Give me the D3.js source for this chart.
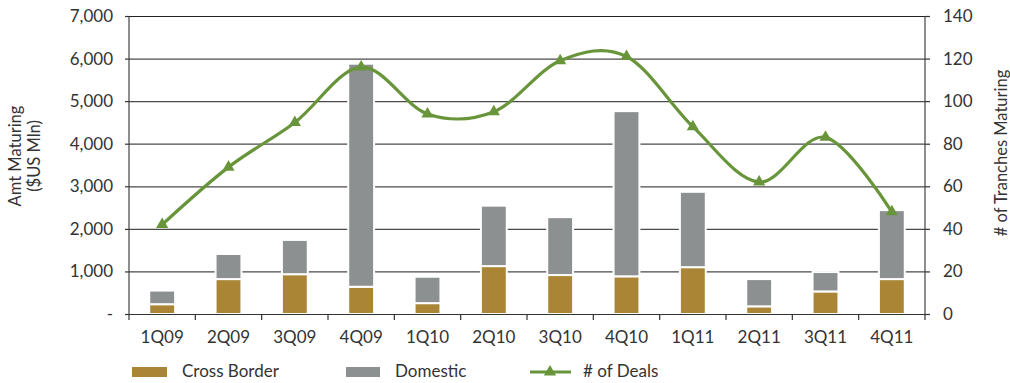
<!DOCTYPE html>
<html>
<head>
<meta charset="utf-8">
<script src="https://cdn.jsdelivr.net/npm/d3@7"></script>
<style>
  html, body { margin: 0; padding: 0; background: #fff; }
  svg { display: block; font-family: Lato, "Open Sans", sans-serif; }
</style>
</head>
<body>
<svg id="chart" width="1010" height="383"></svg>
<script>
// Quarterly maturities
const quarters = ["1Q09","2Q09","3Q09","4Q09","1Q10","2Q10","3Q10","4Q10","1Q11","2Q11","3Q11","4Q11"];
const crossBorder = [230, 820, 935, 640, 255, 1125, 915, 885, 1100, 180, 530, 820];
const domestic    = [320, 590, 805, 5240, 620, 1420, 1360, 3880, 1770, 640, 455, 1620];
const deals       = [42, 69, 90, 116, 94, 95, 119, 121, 88, 62, 83, 48];
const amtTicks    = [0, 1000, 2000, 3000, 4000, 5000, 6000, 7000];
const dealTicks   = [0, 20, 40, 60, 80, 100, 120, 140];

const colors = { cross: "#a98535", domestic: "#8d9090", deals: "#68953a" };
const textColor = "#333";

const svg = d3.select("#chart");
const m = { left: 129, right: 925, top: 16, bottom: 314 };

const x = d3.scaleBand().domain(quarters).range([m.left, m.right]).paddingInner(0.61).paddingOuter(0.305);
const xOuter = d3.scaleBand().domain(quarters).range([m.left, m.right]);
const yL = d3.scaleLinear().domain([0, 7000]).range([m.bottom, m.top]);
const yR = d3.scaleLinear().domain([0, 140]).range([m.bottom, m.top]);

// Gridlines
svg.append("g").selectAll("line").data(amtTicks.slice(1)).join("line")
  .attr("x1", m.left).attr("x2", m.right)
  .attr("y1", d => yL(d) + 0.5).attr("y2", d => yL(d) + 0.5)
  .attr("stroke", d => d === 7000 ? "#222" : "#4a4a4a").attr("stroke-width", 1.2);

// Stacked bars
const stackData = quarters.map((q, i) => ({ q, cross: crossBorder[i], domestic: domestic[i] }));
const series = d3.stack().keys(["cross", "domestic"])(stackData);
svg.append("g").selectAll("g").data(series).join("g")
  .attr("fill", s => colors[s.key])
  .selectAll("rect").data(s => s).join("rect")
  .attr("x", d => x(d.data.q))
  .attr("width", x.bandwidth())
  .attr("y", d => yL(d[1]))
  .attr("height", d => yL(d[0]) - yL(d[1]))
  .attr("stroke", "#fff").attr("stroke-width", 2);

// Left axis
const leftAxis = d3.axisLeft(yL).tickValues(amtTicks)
  .tickFormat(d => d === 0 ? "-" : d3.format(",")(d)).tickSize(4).tickPadding(12);
const gL = svg.append("g").attr("transform", `translate(${m.left},0)`).call(leftAxis);

// Right axis
const rightAxis = d3.axisRight(yR).tickValues(dealTicks).tickSize(5).tickPadding(13);
const gR = svg.append("g").attr("transform", `translate(${m.right},0)`).call(rightAxis);

// Bottom axis with ticks at category boundaries
const gB = svg.append("g").attr("transform", `translate(0,${m.bottom})`);
gB.append("line").attr("x1", m.left - 4).attr("x2", m.right + 5).attr("y1", 0.5).attr("y2", 0.5)
  .attr("stroke", "#333").attr("stroke-width", 1.2);
gB.selectAll("line.tk").data(quarters.concat(["end"])).join("line").attr("class", "tk")
  .attr("x1", (d, i) => m.left + i * xOuter.step()).attr("x2", (d, i) => m.left + i * xOuter.step())
  .attr("y1", 0).attr("y2", 6).attr("stroke", "#333").attr("stroke-width", 1.2);
gB.selectAll("text").data(quarters).join("text")
  .attr("x", d => xOuter(d) + xOuter.bandwidth() / 2).attr("y", 29)
  .attr("text-anchor", "middle").attr("font-size", 17).attr("fill", textColor).text(d => d);

[gL, gR].forEach(g => {
  g.select(".domain").attr("stroke", "#444").attr("stroke-width", 1.2);
  g.selectAll(".tick line").attr("stroke", "#333").attr("stroke-width", 1.2);
  g.selectAll(".tick text").attr("font-size", 17).attr("fill", textColor).attr("font-family", "Lato, sans-serif");
});
gL.select(".domain").attr("d", `M-4,${m.top + 0.5}H0V${m.bottom}`);
gR.select(".domain").attr("d", `M5,${m.top + 0.5}H0V${m.bottom}`);

// Deals line
const cx = q => xOuter(q) + xOuter.bandwidth() / 2;
const line = d3.line().x((d, i) => cx(quarters[i])).y(d => yR(d)).curve(d3.curveCatmullRom.alpha(0));
svg.append("path").datum(deals).attr("d", line)
  .attr("fill", "none").attr("stroke", colors.deals).attr("stroke-width", 3.2);
const tri = d3.symbol().type(d3.symbolTriangle).size(64);
svg.append("g").selectAll("path").data(deals).join("path")
  .attr("d", tri).attr("fill", colors.deals)
  .attr("transform", (d, i) => `translate(${cx(quarters[i])},${yR(d)})`);

// Axis titles
svg.append("text").attr("transform", "translate(21,156) rotate(-90)")
  .attr("text-anchor", "middle").attr("font-size", 16.5).attr("fill", textColor).text("Amt Maturing");
svg.append("text").attr("transform", "translate(40,156) rotate(-90)")
  .attr("text-anchor", "middle").attr("font-size", 16.5).attr("fill", textColor).text("($US Mln)");
svg.append("text").attr("transform", "translate(1007,153) rotate(-90)")
  .attr("text-anchor", "middle").attr("font-size", 16.5).attr("fill", textColor).text("# of Tranches Maturing");

// Legend
const lg = svg.append("g").attr("font-size", 17).attr("fill", textColor);
lg.append("rect").attr("x", 132).attr("y", 367).attr("width", 35).attr("height", 10).attr("fill", colors.cross);
lg.append("text").attr("x", 182).attr("y", 377).text("Cross Border");
lg.append("rect").attr("x", 346).attr("y", 367).attr("width", 34).attr("height", 10).attr("fill", colors.domestic);
lg.append("text").attr("x", 395).attr("y", 377).text("Domestic");
lg.append("line").attr("x1", 530).attr("x2", 571).attr("y1", 372).attr("y2", 372)
  .attr("stroke", colors.deals).attr("stroke-width", 3.2);
lg.append("path").attr("d", tri).attr("fill", colors.deals).attr("transform", "translate(550,372)");
lg.append("text").attr("x", 583).attr("y", 377).text("# of Deals");
</script>
</body>
</html>
